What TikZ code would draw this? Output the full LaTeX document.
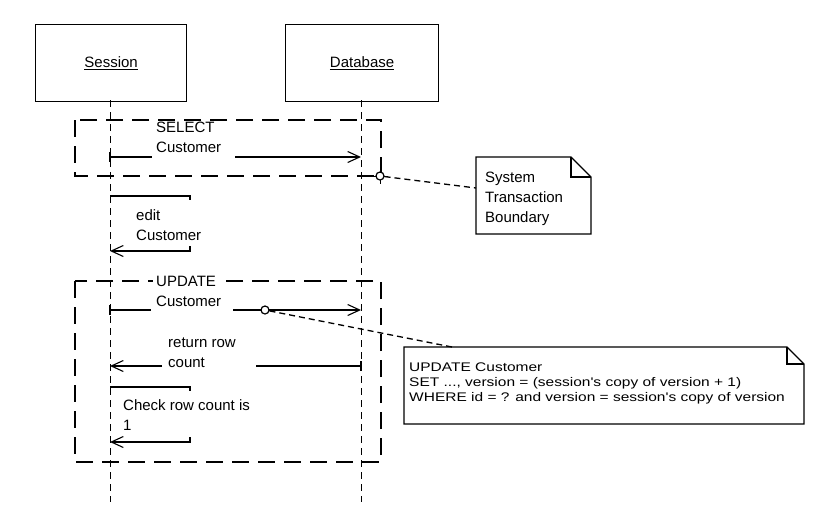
\documentclass[tikz,border=0pt]{standalone}
\usepackage{fontspec}
\setmainfont{Liberation Sans}
\newfontfamily\widefont[FakeStretch=1.24]{Liberation Sans}
\usetikzlibrary{arrows.meta,calc}
\begin{document}
\begin{tikzpicture}[x=1pt,y=-1pt,
  headbox/.style={draw,line width=1.2pt,minimum width=151pt,minimum height=77pt,anchor=north west,inner sep=0pt},
  lifeline/.style={line width=0.7pt,dash pattern=on 7pt off 5pt},
  boundary/.style={line width=1.5pt,dash pattern=on 17pt off 9pt},
  msg/.style={line width=1.1pt},
  arr/.style={msg,-{Straight Barb[length=12pt,width=11pt,line width=1.1pt]}},
  lbl/.style={font=\fontsize{15}{20}\selectfont,align=left,anchor=base west,inner sep=0pt},
  notetxt/.style={font=\widefont\fontsize{12.5}{15}\selectfont,align=left,anchor=base west,inner sep=0pt},
  noteconn/.style={line width=1.3pt,dash pattern=on 6pt off 4pt},
  notebody/.style={line width=1.2pt,fill=white},
  pin/.style={circle,draw,line width=1.2pt,minimum size=8pt,inner sep=0pt,fill=white}]
\useasboundingbox (0,0) rectangle (832,515);

% heads
\node[headbox] (ses) at (35,24) {};
\node[font=\fontsize{15}{18}\selectfont] at (ses.center) {\underline{Session}};
\node[headbox,minimum width=153pt] (db) at (285,24) {};
\node[font=\fontsize{15}{18}\selectfont] at (db.center) {\underline{Database}};

% lifelines
\coordinate (sl) at (110,100);
\coordinate (dl) at (361,100);
\coordinate (se) at (110,502);
\coordinate (de) at (361,502);
\draw[lifeline] (sl) -- (se);
\draw[lifeline] (dl) -- (de);

% boundaries
\draw[boundary] (75,120) rectangle (381,176);
\draw[boundary] (75,281) rectangle (381,462);

% SELECT Customer
\coordinate (a1s) at (110,157);
\coordinate (a1e) at (361,157);
\draw[msg] (a1s) -- (152,157);
\draw[arr] (235,157) -- (a1e);
\draw[msg] (110,152) -- (110,162);
\node[lbl] at (156,152) {SELECT\\Customer};

% edit Customer
\coordinate (e1) at (110,196);
\coordinate (e2) at (190,196);
\coordinate (e3) at (190,251);
\coordinate (e4) at (110,251);
\draw[msg] (e1) -- (e2) -- ++(0,4);
\draw[arr] ($(e3)+(0,-5)$) -- (e3) -- (e4);
\node[lbl] at (136,240) {edit\\Customer};

% UPDATE Customer
\coordinate (u1) at (110,310);
\coordinate (u2) at (361,310);
\draw[msg] (110,305) -- (110,315);
\draw[msg] (u1) -- (151,310);
\draw[arr] (233,310) -- (u2);
\node[lbl,fill=white,inner xsep=3pt,inner ysep=1pt] at (153,306) {UPDATE\\Customer};

% return row count
\coordinate (r1) at (361,366);
\coordinate (r2) at (110,366);
\draw[msg] (r1) -- (256,366);
\draw[msg] (361,361) -- (361,371);
\draw[arr] (162,366) -- (r2);
\node[lbl] at (168,367) {return row\\count};

% check row count
\coordinate (c1) at (110,387);
\coordinate (c2) at (190,387);
\coordinate (c3) at (190,442);
\coordinate (c4) at (110,442);
\draw[msg] (c1) -- (c2) -- ++(0,4);
\draw[arr] ($(c3)+(0,-5)$) -- (c3) -- (c4);
\node[lbl] at (123,430) {Check row count is\\1};

% note 1
\draw[notebody] (476,157) -- (571,157) -- (591,177) -- (591,234) -- (476,234) -- cycle;
\draw[line width=1.2pt] (571,157) -- (571,177) -- (591,177);
\node[lbl] (note1) at (485,222) {System\\Transaction\\Boundary};
\draw[line width=1pt] (380,168) -- (380,184) (372,176) -- (388,176);
\node[pin] (p1) at (380,176) {};
\draw[noteconn] (p1) -- (476,188);

% note 2
\draw[notebody] (404,347) -- (787,347) -- (804,364) -- (804,424) -- (404,424) -- cycle;
\draw[line width=1.2pt] (787,347) -- (787,364) -- (804,364);
\node[notetxt] (note2) at (409,401) {UPDATE Customer\\SET ..., version = (session's copy of version + 1)\\WHERE id = ? and version = session's copy of version};
\node[pin] (p2) at (265,310) {};
\draw[noteconn] (p2) -- (452,347);
\end{tikzpicture}
\end{document}
